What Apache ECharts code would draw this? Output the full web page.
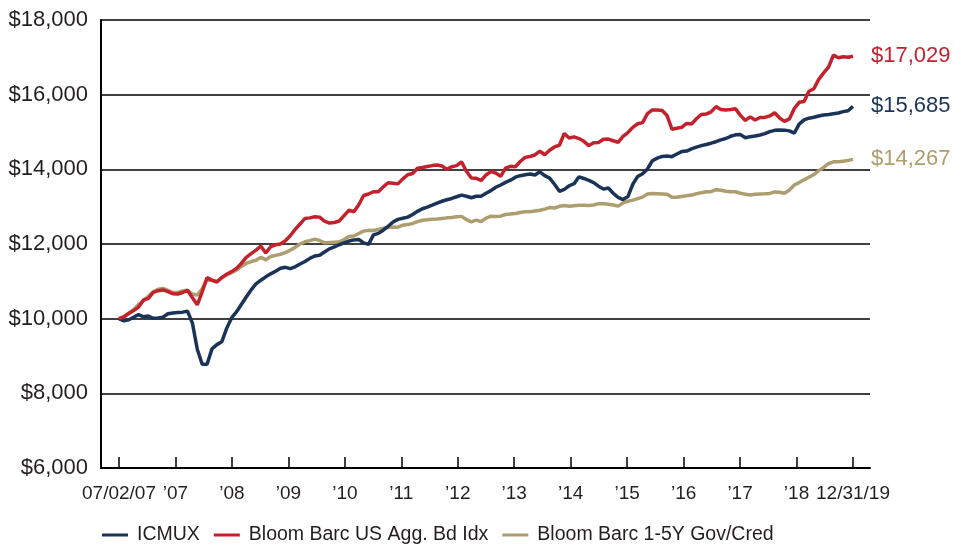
<!DOCTYPE html>
<html>
<head>
<meta charset="utf-8">
<script src="https://cdn.jsdelivr.net/npm/echarts@6/dist/echarts.min.js"></script>
<style>
  html, body { margin: 0; padding: 0; background: #fff; }
  #chart { width: 954px; height: 549px; }
</style>
</head>
<body>
<div id="chart"></div>
<script>
// x-axis tick labels, evenly spaced from 07/02/07 to 12/31/19
var tickLabels = ["07/02/07", "\u201907", "\u201908", "\u201909", "\u201910", "\u201911", "\u201912",
  "\u201913", "\u201914", "\u201915", "\u201916", "\u201917", "\u201918", "12/31/19"];

// growth of $10,000, monthly (Jul 2007 - Dec 2019)
var icmux = [
  10000, 9940, 9970, 10040, 10110, 10050, 10070, 10010, 10020, 10040,
  10130, 10150, 10165, 10175, 10200, 9880, 9180, 8780, 8780, 9190,
  9305, 9380, 9740, 10020, 10180, 10380, 10580, 10770, 10930, 11030,
  11120, 11200, 11270, 11350, 11375, 11340, 11390, 11465, 11530, 11615,
  11680, 11700, 11785, 11870, 11920, 11980, 12030, 12080, 12110, 12120,
  12030, 11990, 12245, 12285, 12370, 12475, 12590, 12660, 12690, 12720,
  12790, 12875, 12945, 12990, 13040, 13095, 13145, 13185, 13220, 13265,
  13310, 13280, 13240, 13280, 13280, 13360, 13430, 13520, 13580, 13650,
  13710, 13790, 13830, 13855, 13875, 13850, 13935, 13830, 13765, 13600,
  13410, 13465, 13560, 13615, 13800, 13755, 13705, 13645, 13550, 13470,
  13500, 13360, 13250, 13190, 13270, 13600, 13810, 13880, 14010, 14230,
  14300, 14345, 14355, 14340, 14410, 14475, 14490, 14545, 14595, 14635,
  14665, 14700, 14740, 14790, 14825, 14885, 14925, 14930, 14845, 14875,
  14895, 14920, 14955, 15010, 15045, 15055, 15050, 15030, 14970, 15210,
  15325, 15370, 15395, 15430, 15455, 15470, 15490, 15510, 15545, 15570,
  15685
];
var aggBond = [
  10000, 10050, 10140, 10220, 10310, 10500, 10545, 10705, 10750, 10770,
  10725, 10670, 10660, 10700, 10760, 10560, 10370, 10720, 11100, 11030,
  10980, 11100, 11190, 11260, 11345, 11480, 11640, 11740, 11835, 11940,
  11760, 11930, 11980, 12000, 12085, 12220, 12390, 12535, 12685, 12700,
  12730, 12720, 12610, 12560, 12575, 12615, 12760, 12905, 12865, 13050,
  13300, 13340, 13400, 13400, 13530, 13640, 13630, 13610, 13745, 13855,
  13890, 14030, 14050, 14075, 14100, 14115, 14090, 14000, 14070, 14100,
  14200, 13950, 13770, 13760, 13700, 13850, 13940, 13900, 13810, 14030,
  14080, 14070, 14210, 14320, 14345, 14385, 14485, 14390, 14510, 14600,
  14645, 14960, 14840, 14870, 14825, 14750, 14635, 14715, 14720, 14805,
  14810, 14765, 14725, 14885, 14985, 15125, 15220, 15250, 15490, 15590,
  15590, 15575, 15440, 15075, 15100, 15125, 15230, 15215, 15355, 15470,
  15480, 15540, 15680, 15605, 15590, 15600, 15620, 15445, 15310, 15405,
  15320, 15390, 15390, 15430, 15515, 15375, 15285, 15350, 15630, 15795,
  15815, 16090, 16160, 16410, 16585, 16740, 17060, 16990, 17015, 17000,
  17029
];
var govCred = [
  10000, 10050, 10150, 10240, 10380, 10480, 10600, 10720, 10790, 10810,
  10760, 10700, 10700, 10740, 10760, 10660, 10630, 10800, 11050, 11020,
  11000, 11100, 11170, 11230, 11300, 11400, 11480, 11530, 11565, 11645,
  11575, 11665, 11695, 11725, 11770, 11835, 11915, 12000, 12060, 12090,
  12130, 12095, 12030, 12040, 12050, 12060, 12120, 12200, 12215, 12280,
  12345, 12365, 12360, 12390, 12420, 12445, 12455, 12450, 12505, 12520,
  12550, 12600, 12635, 12650, 12665, 12670, 12685, 12700, 12710, 12730,
  12740, 12655, 12595, 12640, 12600, 12690, 12745, 12735, 12745, 12790,
  12805, 12815, 12845, 12865, 12865, 12885, 12905, 12935, 12975, 12965,
  13010, 13030, 13010, 13025, 13040, 13035, 13030, 13045, 13080, 13080,
  13065, 13045, 13015, 13100, 13145, 13175, 13215, 13255, 13340, 13350,
  13345, 13340, 13335, 13250, 13250, 13270, 13290, 13310, 13345, 13375,
  13400, 13400, 13455, 13440, 13415, 13400, 13400, 13360, 13335, 13310,
  13335, 13340, 13345, 13355, 13395, 13385, 13360, 13445, 13580, 13645,
  13720, 13790, 13860, 13965, 14050, 14150, 14200, 14205, 14215, 14240,
  14267
];

var seriesNames = ["ICMUX", "Bloom Barc US Agg. Bd Idx", "Bloom Barc 1-5Y Gov/Cred"];
var colors = ["#1b3357", "#c3222d", "#ad9d6f"];

var font = "'Liberation Sans', Arial, sans-serif";
var textColor = "#231f20";

// months -> position in tick units (13 equal gaps between the labels)
function toPoints(arr) {
  var steps = tickLabels.length - 1;
  return arr.map(function (v, i) {
    return [i * steps / (arr.length - 1), v];
  });
}

function money(v) {
  return "$" + Math.round(v).toLocaleString("en-US");
}

function makeSeries(idx, arr, z) {
  return {
    name: seriesNames[idx],
    type: "line",
    xAxisIndex: 1,
    yAxisIndex: 1,
    data: toPoints(arr),
    showSymbol: false,
    symbol: "none",
    z: z,
    lineStyle: { color: colors[idx], width: 3.5 },
    itemStyle: { color: colors[idx] },
    endLabel: {
      show: true,
      distance: 18,
      formatter: function (p) { return money(p.value[1]); },
      color: colors[idx],
      fontFamily: font,
      fontSize: 22
    }
  };
}

var chart = echarts.init(document.getElementById("chart"), null, { renderer: "canvas" });

chart.setOption({
  animation: false,
  backgroundColor: "#fff",
  color: colors,
  grid: [
    // frame: y axis + gridlines
    { left: 101, right: 84, top: 20, bottom: 81 },
    // data area (first/last label positions)
    { left: 119, right: 101, top: 20, bottom: 81 }
  ],
  legend: {
    left: 102,
    top: 525,
    padding: 0,
    itemWidth: 26,
    itemHeight: 3,
    itemGap: 14,
    icon: "rect",
    data: seriesNames,
    textStyle: { fontFamily: font, fontSize: 19.5, color: textColor, padding: [0, 0, 0, 4] }
  },
  xAxis: [
    {
      gridIndex: 0,
      type: "value",
      min: 0,
      max: 1,
      axisLine: { show: true, lineStyle: { color: "#000", width: 2 } },
      axisTick: { show: false },
      axisLabel: { show: false },
      splitLine: { show: false }
    },
    {
      gridIndex: 1,
      type: "value",
      min: 0,
      max: tickLabels.length - 1,
      interval: 1,
      axisLine: { show: false },
      axisTick: { show: true, inside: true, length: 11, lineStyle: { color: "#000", width: 1.5 } },
      axisLabel: {
        margin: 16,
        fontFamily: font,
        fontSize: 19,
        color: textColor,
        formatter: function (v) { return tickLabels[Math.round(v)] || ""; }
      },
      splitLine: { show: false }
    }
  ],
  yAxis: [
    {
      gridIndex: 0,
      type: "value",
      min: 6000,
      max: 18000,
      interval: 2000,
      axisLine: { show: true, lineStyle: { color: "#000", width: 2 } },
      axisTick: { show: false },
      axisLabel: {
        margin: 13,
        fontFamily: font,
        fontSize: 22,
        color: textColor,
        formatter: money
      },
      splitLine: { show: true, lineStyle: { color: "#000", width: 1.5 } }
    },
    {
      gridIndex: 1,
      type: "value",
      min: 6000,
      max: 18000,
      show: false,
      splitLine: { show: false }
    }
  ],
  series: [
    makeSeries(0, icmux, 4),
    makeSeries(1, aggBond, 5),
    makeSeries(2, govCred, 3)
  ]
});
</script>
</body>
</html>
